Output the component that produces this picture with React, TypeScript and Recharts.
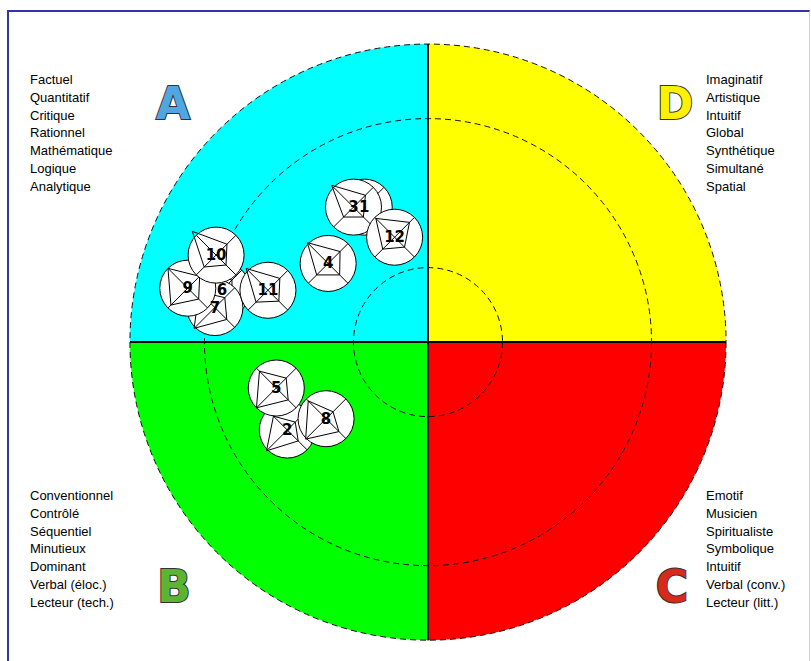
import React from 'react';
import {
  PieChart, Pie, Cell, ScatterChart, Scatter, XAxis, YAxis,
  ReferenceDot, ReferenceLine,
} from 'recharts';

// quadrants, counter-clockwise from the top (A top-left, B bottom-left, C bottom-right, D top-right)
const quadrantNames = ['A', 'B', 'C', 'D'];
const quadrantColors = ['#00ffff', '#00ff00', '#ff0000', '#ffff00'];

// dashed rings (chart units, outer edge = 100)
const ringRadii = [25, 75, 100];

// profiles: position in the circle + the 4 scores of the small radar (1 = edge of the small circle)
const profileIds = ['1', '2', '3', '4', '5', '6', '7', '8', '9', '10', '11', '12'];
const profileX = [-21.4, -47.2, -25.0, -33.5, -50.9, -69.1, -71.5, -34.2, -80.6, -71.1, -53.7, -11.2];
const profileY = [45.3, -29.5, 45.3, 26.4, -15.4, 17.5, 11.6, -25.7, 18.1, 29.2, 17.4, 35.2];
const scoreA = [1.15, 0.7, 1.1, 1.05, 0.85, 0.9, 0.8, 0.9, 1.0, 1.2, 1.1, 0.95];
const scoreB = [0.55, 1.05, 0.5, 0.58, 1.0, 0.6, 1.05, 1.03, 0.85, 0.6, 0.6, 0.6];
const scoreC = [0.5, 0.55, 0.5, 0.58, 0.6, 0.5, 0.6, 0.65, 0.55, 0.5, 0.55, 0.5];
const scoreD = [0.55, 0.4, 0.6, 0.6, 0.5, 0.5, 0.5, 0.35, 0.6, 0.55, 0.6, 0.75];

const wordsA = ['Factuel', 'Quantitatif', 'Critique', 'Rationnel', 'Mathématique', 'Logique', 'Analytique'];
const wordsD = ['Imaginatif', 'Artistique', 'Intuitif', 'Global', 'Synthétique', 'Simultané', 'Spatial'];
const wordsB = ['Conventionnel', 'Contrôlé', 'Séquentiel', 'Minutieux', 'Dominant', 'Verbal (éloc.)', 'Lecteur (tech.)'];
const wordsC = ['Emotif', 'Musicien', 'Spiritualiste', 'Symbolique', 'Intuitif', 'Verbal (conv.)', 'Lecteur (litt.)'];

const W = 811;
const H = 661;
const X_DOMAIN = [-143.6, 128.5];
const Y_DOMAIN = [-107.0, 114.8];
const PX = W / (X_DOMAIN[1] - X_DOMAIN[0]);
const CX = -X_DOMAIN[0] * PX;
const CY = Y_DOMAIN[1] * PX;
const SMALL_R = 9.4;

const pieData = quadrantNames.map((name) => ({ name, value: 1 }));
const profiles = profileIds.map((id, i) => ({
  id, x: profileX[i], y: profileY[i],
  a: scoreA[i], b: scoreB[i], c: scoreC[i], d: scoreD[i],
}));

const ProfileShape = (props: any) => {
  const { cx, cy, payload } = props;
  const r = SMALL_R * PX;
  const k = r * Math.SQRT1_2;
  const p = (s: number, sx: number, sy: number) => `${cx + sx * s * k},${cy + sy * s * k}`;
  const pts = [p(payload.a, -1, -1), p(payload.d, 1, -1), p(payload.c, 1, 1), p(payload.b, -1, 1)].join(' ');
  return (
    <g>
      <circle cx={cx} cy={cy} r={r} fill="#fff" stroke="#000" strokeWidth={1} />
      <line x1={cx - k} y1={cy - k} x2={cx + k} y2={cy + k} stroke="#000" strokeWidth={1} />
      <line x1={cx + k} y1={cy - k} x2={cx - k} y2={cy + k} stroke="#000" strokeWidth={1} />
      <polygon points={pts} fill="none" stroke="#000" strokeWidth={1} />
    </g>
  );
};

const IdShape = (props: any) => (
  <text x={props.cx} y={props.cy + 5} textAnchor="middle" fontSize={15} fontWeight="bold"
    fontFamily="DejaVu Sans" fill="#000">{props.payload.id}</text>
);

const WordList = ({ words, left, top }: { words: string[]; left: number; top: number }) => (
  <div style={{ position: 'absolute', left, top, fontFamily: '"Liberation Sans", Arial', fontSize: 13, lineHeight: '17.8px', color: '#000' }}>
    {words.map((w) => <div key={w}>{w}</div>)}
  </div>
);

const layer: React.CSSProperties = { position: 'absolute', left: 0, top: 0 };

export default function App() {
  return (
    <div style={{ position: 'absolute', left: 0, top: 0, width: W, height: H, background: '#fff', overflow: 'hidden' }}>
      <div style={{ position: 'absolute', left: 7, top: 10, width: 800, height: 660, borderTop: '2px solid #3434a2', borderLeft: '2px solid #3434a2', borderRight: '1px solid #d0d0dc' }} />

      <div style={layer}>
        <PieChart width={W} height={H} margin={{ top: 0, right: 0, bottom: 0, left: 0 }}>
          <Pie data={pieData} dataKey="value" cx={CX} cy={CY} outerRadius={100 * PX}
            startAngle={90} endAngle={450} stroke="none" isAnimationActive={false}>
            {pieData.map((q, i) => <Cell key={q.name} fill={quadrantColors[i]} />)}
          </Pie>
        </PieChart>
      </div>

      <div style={layer}>
        <ScatterChart width={W} height={H} margin={{ top: 0, right: 0, bottom: 0, left: 0 }}>
          <XAxis type="number" dataKey="x" domain={X_DOMAIN} hide allowDataOverflow />
          <YAxis type="number" dataKey="y" domain={Y_DOMAIN} hide allowDataOverflow />
          {ringRadii.map((rr) => (
            <ReferenceDot key={rr} x={0} y={0} r={rr * PX} fill="none" stroke="#111"
              strokeWidth={1} strokeDasharray="6 4" ifOverflow="visible" />
          ))}
          <ReferenceLine segment={[{ x: 0, y: -100 }, { x: 0, y: 100 }]} stroke="#000" strokeWidth={2} ifOverflow="visible" />
          <ReferenceLine segment={[{ x: -100, y: 0 }, { x: 100, y: 0 }]} stroke="#000" strokeWidth={2} ifOverflow="visible" />
        </ScatterChart>
      </div>

      <div style={layer}>
        <ScatterChart width={W} height={H} margin={{ top: 0, right: 0, bottom: 0, left: 0 }}>
          <XAxis type="number" dataKey="x" domain={X_DOMAIN} hide allowDataOverflow />
          <YAxis type="number" dataKey="y" domain={Y_DOMAIN} hide allowDataOverflow />
          <Scatter data={profiles} shape={ProfileShape} isAnimationActive={false} />
          <Scatter data={profiles} shape={IdShape} isAnimationActive={false} />
        </ScatterChart>
      </div>

      <svg width={W} height={H} style={{ ...layer, pointerEvents: 'none' }}>
        {[
          { t: 'A', x: 173, y: 119, fill: '#4fa6e2' },
          { t: 'D', x: 675, y: 119, fill: '#fff200' },
          { t: 'B', x: 174, y: 602, fill: '#5cb532' },
          { t: 'C', x: 672, y: 602, fill: '#d52a1c' },
        ].map((l) => (
          <text key={l.t} x={l.x} y={l.y} textAnchor="middle" fontSize={44} fontWeight="bold"
            fontFamily="DejaVu Sans" fill={l.fill} stroke="#333" strokeWidth={2} paintOrder="stroke">{l.t}</text>
        ))}
      </svg>

      <WordList words={wordsA} left={30} top={71} />
      <WordList words={wordsD} left={706} top={71} />
      <WordList words={wordsB} left={30} top={487} />
      <WordList words={wordsC} left={706} top={487} />
    </div>
  );
}
